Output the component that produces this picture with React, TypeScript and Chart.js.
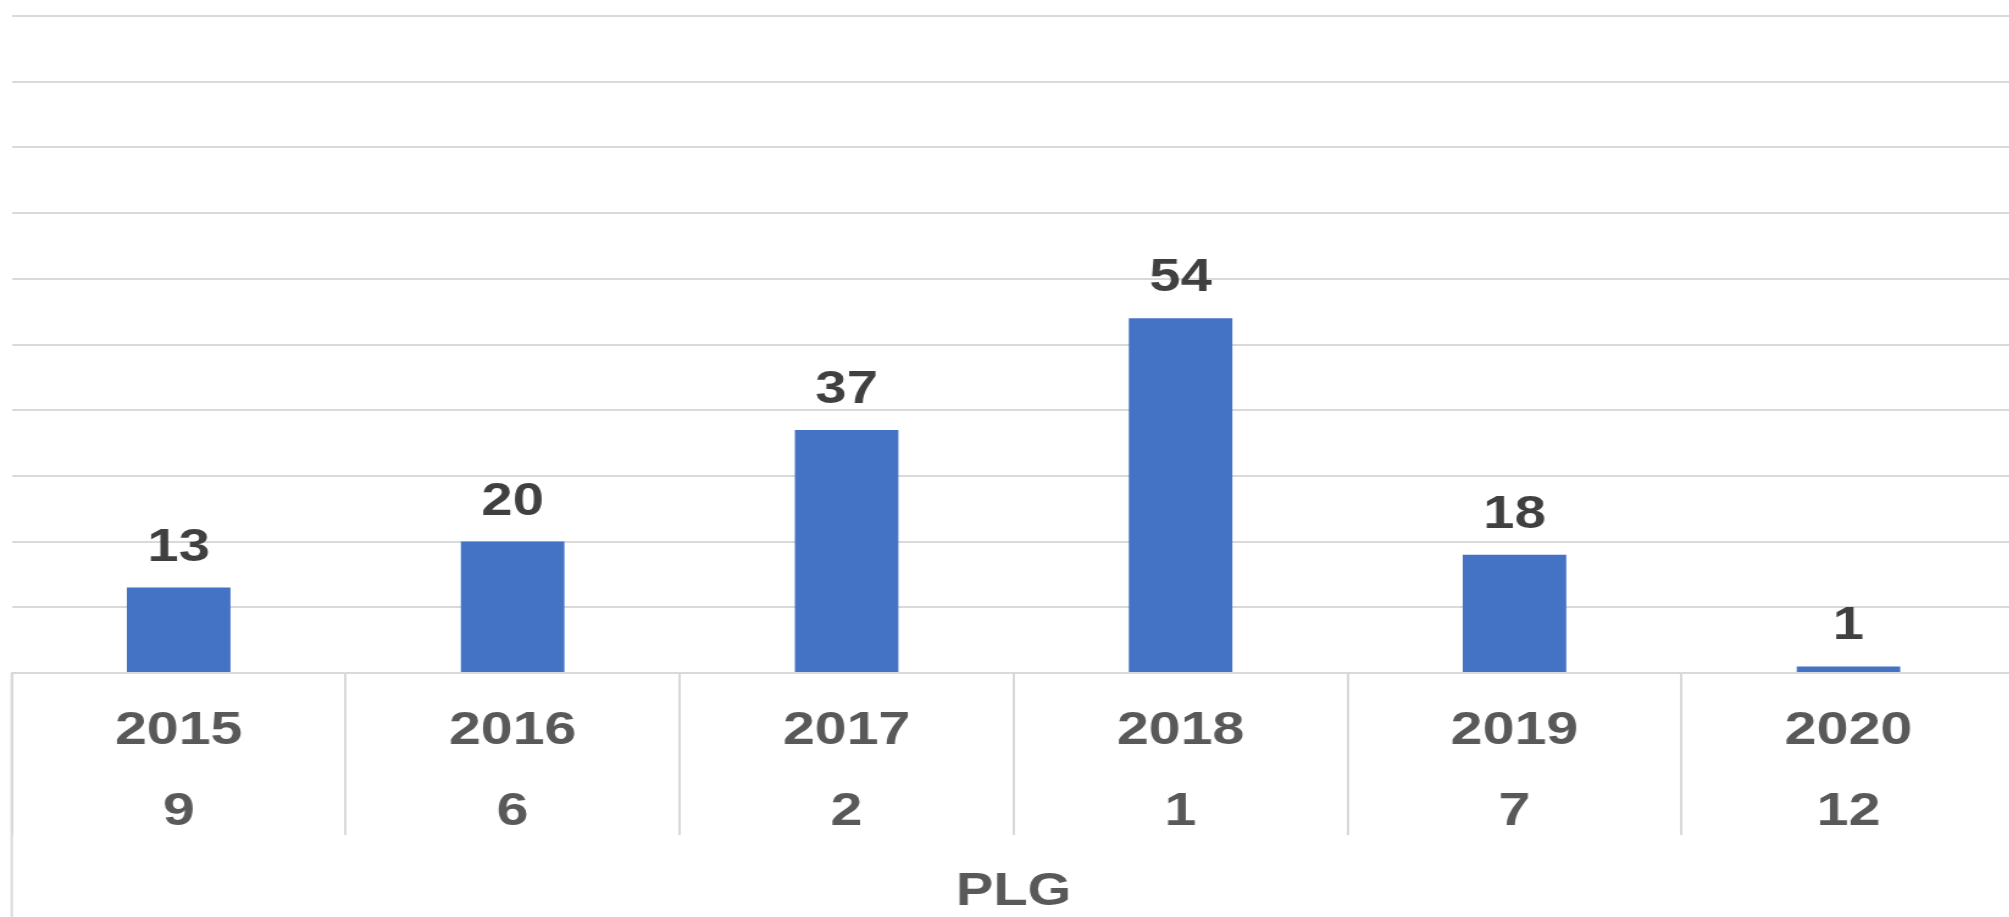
import React, { useEffect, useRef } from "react";
import { Chart, registerables } from "chart.js";

Chart.register(...registerables);

const years = ["2015", "2016", "2017", "2018", "2019", "2020"];
const ranks = ["9", "6", "2", "1", "7", "12"];
const values = [13, 20, 37, 54, 18, 1];
const axisTitle = "PLG";

const STRETCH = 1.22;
const CANVAS_W = 1652;
const CANVAS_H = 917;
const FONT = "'Liberation Sans', Arial, sans-serif";

const valueLabels = {
  id: "valueLabels",
  afterDatasetsDraw(chart: any) {
    const ctx = chart.ctx;
    const meta = chart.getDatasetMeta(0);
    const ds = chart.data.datasets[0].data;
    ctx.save();
    ctx.font = `bold 46px ${FONT}`;
    ctx.fillStyle = "#404040";
    ctx.textAlign = "center";
    ctx.textBaseline = "alphabetic";
    meta.data.forEach((bar: any, i: number) => {
      ctx.fillText(String(ds[i]), bar.x, bar.y - 27);
    });
    ctx.restore();
  },
};

const outerBorder = {
  id: "outerBorder",
  afterDraw(chart: any) {
    const ctx = chart.ctx;
    const x = chart.chartArea.left;
    ctx.save();
    ctx.strokeStyle = "#D9D9D9";
    ctx.lineWidth = 2;
    ctx.beginPath();
    ctx.moveTo(x, chart.chartArea.bottom);
    ctx.lineTo(x, chart.height);
    ctx.stroke();
    ctx.restore();
  },
};

export default function App() {
  const ref = useRef<HTMLCanvasElement | null>(null);

  useEffect(() => {
    if (!ref.current) return;
    const labels = years.map((y, i) => [y, ranks[i]]);
    const chart = new Chart(ref.current, {
      type: "bar",
      data: {
        labels,
        datasets: [
          {
            data: values,
            backgroundColor: "#4472C4",
            borderWidth: 0,
            barPercentage: 0.31,
            categoryPercentage: 1,
          },
        ],
      },
      options: {
        animation: false,
        responsive: false,
        devicePixelRatio: 1,
        layout: { padding: { left: 11.7 / STRETCH, top: 16, right: 0, bottom: 0 } },
        plugins: { legend: { display: false }, tooltip: { enabled: false } },
        scales: {
          x: {
            offset: true,
            grid: {
              offset: true,
              drawOnChartArea: false,
              drawTicks: true,
              tickLength: 162,
              color: "#D9D9D9",
              lineWidth: 2,
            },
            border: { display: true, color: "#D9D9D9", width: 2 },
            ticks: {
              autoSkip: false,
              maxRotation: 0,
              minRotation: 0,
              padding: -145,
              color: "#595959",
              font: { family: FONT, size: 47, weight: "bold", lineHeight: "81.5px" },
            },
            title: {
              display: true,
              text: axisTitle,
              color: "#595959",
              font: { family: FONT, size: 46, weight: "bold", lineHeight: 1 },
              padding: { top: 0, bottom: 2 },
            },
            afterFit: (scale: any) => {
              scale.height = CANVAS_H - 673;
            },
          },
          y: {
            min: 0,
            max: 100,
            ticks: { display: false, stepSize: 10 },
            border: { display: false },
            grid: { color: "#D9D9D9", lineWidth: 2, drawTicks: false },
            afterFit: (scale: any) => {
              scale.width = 0;
            },
          },
        },
      },
      plugins: [valueLabels, outerBorder],
    });
    return () => chart.destroy();
  }, []);

  return (
    <div
      style={{
        position: "fixed",
        left: 0,
        top: 0,
        width: 2009,
        height: CANVAS_H,
        overflow: "hidden",
        background: "#fff",
      }}
    >
      <div
        style={{
          width: CANVAS_W,
          height: CANVAS_H,
          transform: `scaleX(${STRETCH})`,
          transformOrigin: "0 0",
        }}
      >
        <canvas ref={ref} width={CANVAS_W} height={CANVAS_H} style={{ display: "block" }} />
      </div>
    </div>
  );
}
